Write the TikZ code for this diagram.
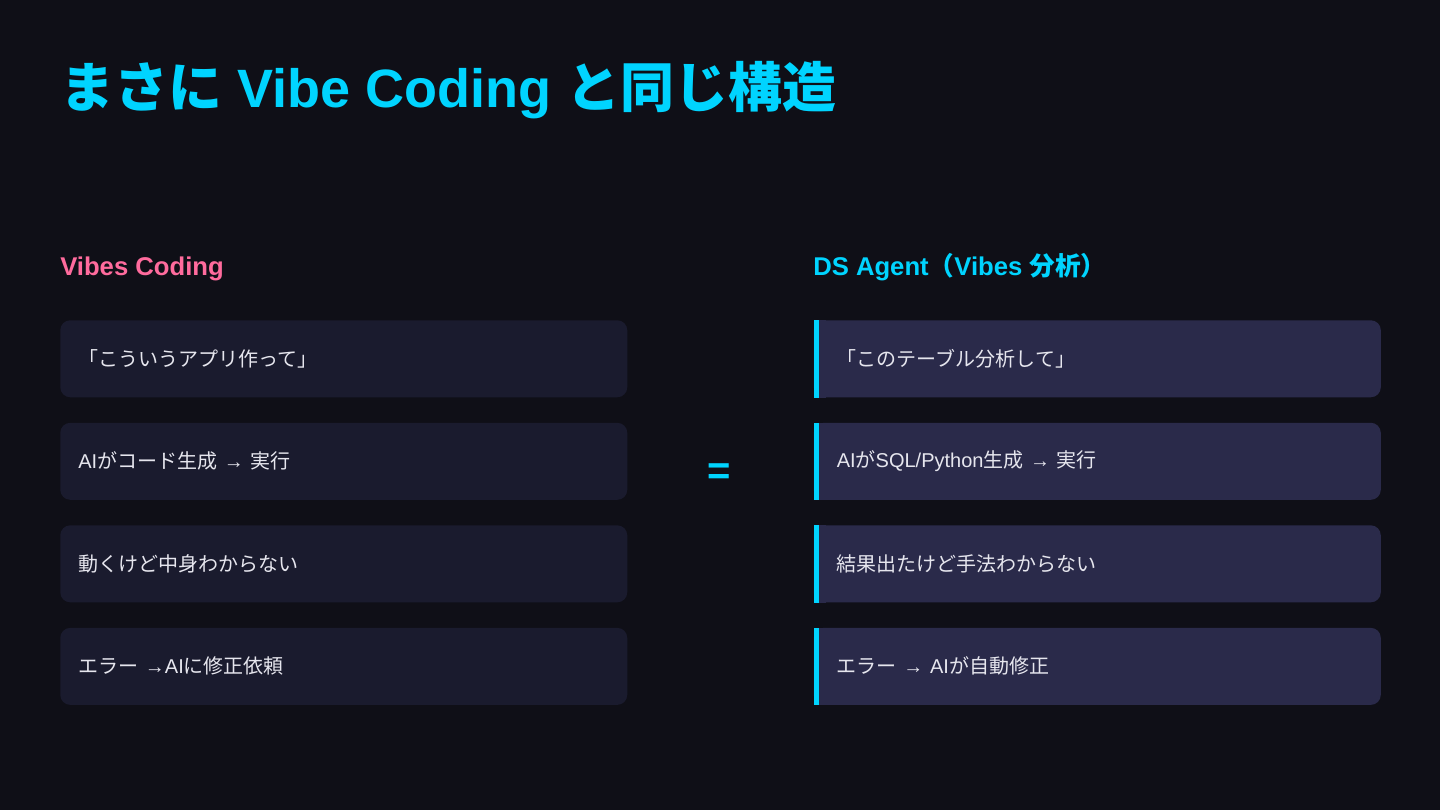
\documentclass[tikz,border=0pt]{standalone}
\usepackage{fontspec}
\setmainfont{Liberation Sans}
\newfontfamily\jp{Noto Sans CJK JP}
\usetikzlibrary{positioning}
\definecolor{bg}{HTML}{0F0F17}
\definecolor{cardleft}{HTML}{1A1B2E}
\definecolor{cardright}{HTML}{2A2A4A}
\definecolor{accent}{HTML}{00D4FF}
\definecolor{pink}{HTML}{FF6B9D}
\definecolor{bodytext}{HTML}{E6E6EE}
\newcommand{\ja}[1]{{\jp #1}}

\begin{document}
\begin{tikzpicture}[
  x=0.75pt, y=-0.75pt,
  node distance=18.75pt,
  card/.style={fill=cardleft, rounded corners=7.5pt, minimum height=57.75pt,
               inner xsep=13.5pt, text width=398.25pt, align=left,
               font=\fontsize{15}{18}\selectfont, text=bodytext},
  cardr/.style={card, fill=cardright, inner xsep=17.25pt, text width=390.75pt},
  head/.style={anchor=base west, inner sep=0pt, font=\fontsize{19.25}{22}\selectfont\bfseries},
]
  \useasboundingbox[fill=bg] (0,0) rectangle (1440,810);

  % Title
  \node[anchor=base west, inner sep=0pt, text=accent, font=\fontsize{40.5}{44}\selectfont\bfseries]
    (title) at (60,107) {\ja{まさに} Vibe Coding \ja{と同じ構造}};

  % Column heads
  \node[head, text=pink] (lefthead) at (60,275) {Vibes Coding};
  \node[head, text=accent] (righthead) at (813,275) {DS Agent\ja{（}Vibes \ja{分析）}};

  % Left column --- Vibes Coding
  \node[card, anchor=north west] (l1) at (60,320) {\ja{「こういうアプリ作って」}};
  \node[card, below=of l1] (l2) {AI\ja{がコード生成} → \ja{実行}};
  \node[card, below=of l2] (l3) {\ja{動くけど中身わからない}};
  \node[card, below=of l3] (l4) {\ja{エラー} →AI\ja{に修正依頼}};

  % Right column --- DS Agent
  \node[cardr, right=139.5pt of l1] (r1) {\ja{「このテーブル分析して」}};
  \node[cardr, below=of r1] (r2) {AI\ja{が}SQL/Python\ja{生成} → \ja{実行}};
  \node[cardr, below=of r2] (r3) {\ja{結果出たけど手法わからない}};
  \node[cardr, below=of r3] (r4) {\ja{エラー} → AI\ja{が自動修正}};

  % accent bars on the right cards
  \foreach \i in {1,...,4} {
    \fill[cardright] (r\i.north west) rectangle ([xshift=9pt]r\i.south west);
    \fill[accent] (r\i.north west) rectangle ([xshift=3.75pt]r\i.south west);
  }

  % Equals sign
  \node[text=accent, font=\fontsize{30}{30}\selectfont\bfseries] (equal) at (719,474) {=};
\end{tikzpicture}
\end{document}
